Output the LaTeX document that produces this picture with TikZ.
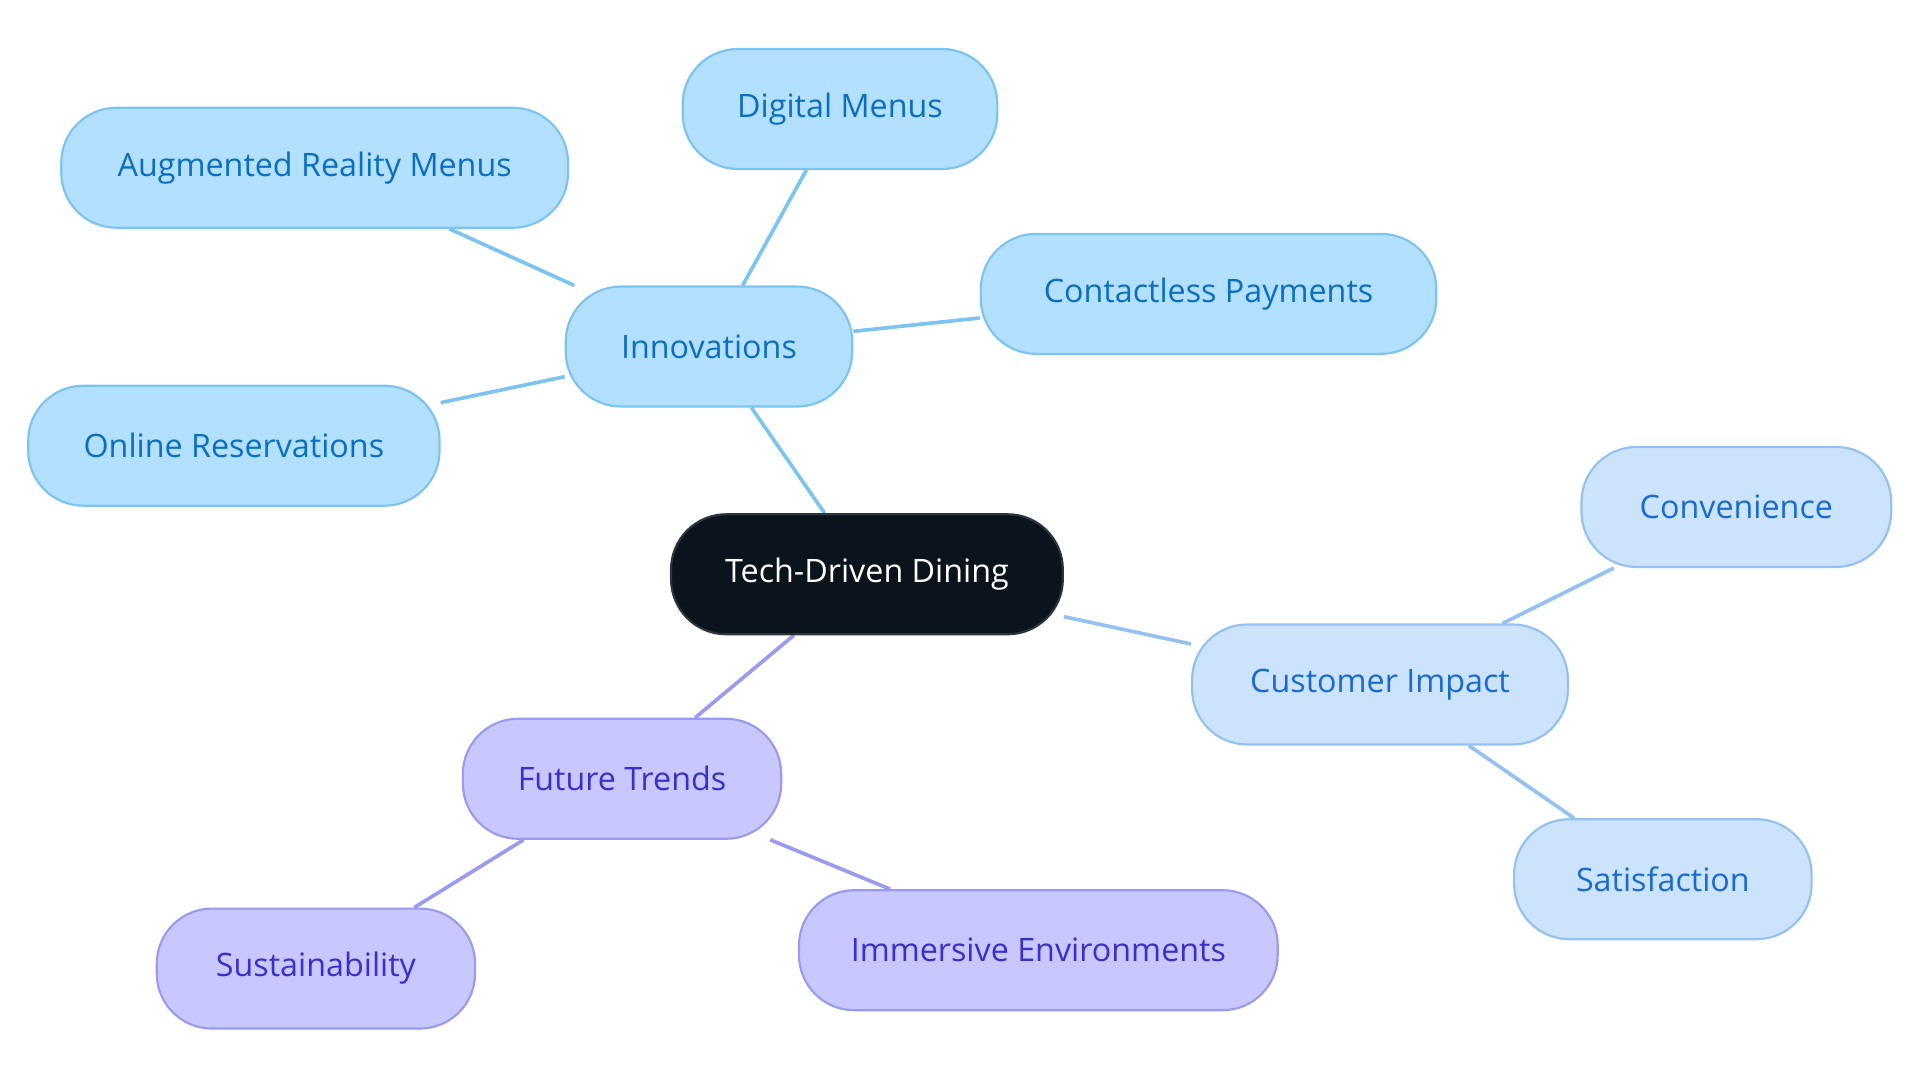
\documentclass[tikz,border=0pt]{standalone}
\usepackage{fontspec}
\setmainfont{Open Sans}
\usepackage{xcolor}
\usetikzlibrary{backgrounds}
\definecolor{rootfill}{HTML}{0B131D}
\definecolor{innofill}{HTML}{B3E0FF}
\definecolor{innoline}{HTML}{7CC4F0}
\definecolor{innotext}{HTML}{0B6FC0}
\definecolor{custfill}{HTML}{CCE3FC}
\definecolor{custline}{HTML}{94C1F0}
\definecolor{custtext}{HTML}{1A6BD0}
\definecolor{futfill}{HTML}{C8C8FF}
\definecolor{futline}{HTML}{9A9AEE}
\definecolor{futtext}{HTML}{3A2FC8}
\begin{document}
\begin{tikzpicture}[x=0.02cm, y=-0.02cm,
    box/.style={rounded corners=0.9cm, minimum height=1.96cm, inner sep=0pt,
      line width=1pt, font=\fontsize{15}{18}\selectfont},
    root/.style={box, fill=rootfill, draw=rootfill!70!gray, text=white},
    inno/.style={box, fill=innofill, draw=innoline, text=innotext},
    cust/.style={box, fill=custfill, draw=custline, text=custtext},
    fut/.style={box, fill=futfill, draw=futline, text=futtext},
    link/.style={line width=1.7pt}]
    \useasboundingbox (0,0) rectangle (1568,884);
    % central topic
    \node[root, minimum width=6.4cm] (dining) at (708,469) {Tech-Driven Dining};
    % innovations branch
    \node[inno, minimum width=4.68cm] (innov) at (579,283) {Innovations};
    \node[inno, minimum width=5.14cm] (menus) at (686,89) {Digital Menus};
    \node[inno, minimum width=8.28cm] (armenu) at (257,137) {Augmented Reality Menus};
    \node[inno, minimum width=7.44cm] (payment) at (987,240) {Contactless Payments};
    \node[inno, minimum width=6.72cm] (reserve) at (191,364) {Online Reservations};
    % customer branch
    \node[cust, minimum width=6.14cm] (impact) at (1127,559) {Customer Impact};
    \node[cust, minimum width=5.06cm] (conven) at (1418,414) {Convenience};
    \node[cust, minimum width=4.86cm] (satisf) at (1358,718) {Satisfaction};
    % future branch
    \node[fut, minimum width=5.2cm] (trends) at (508,636) {Future Trends};
    \node[fut, minimum width=5.2cm] (sustain) at (258,791) {Sustainability};
    \node[fut, minimum width=7.82cm] (immerse) at (848,776) {Immersive Environments};
    % connectors
    \begin{scope}[on background layer]
      \draw[link, innoline] (dining) -- (innov);
      \foreach \leaf in {menus, armenu, payment, reserve}
        \draw[link, innoline] (innov) -- (\leaf);
      \draw[link, custline] (dining) -- (impact);
      \foreach \leaf in {conven, satisf}
        \draw[link, custline] (impact) -- (\leaf);
      \draw[link, futline] (dining) -- (trends);
      \foreach \leaf in {sustain, immerse}
        \draw[link, futline] (trends) -- (\leaf);
    \end{scope}
\end{tikzpicture}
\end{document}
